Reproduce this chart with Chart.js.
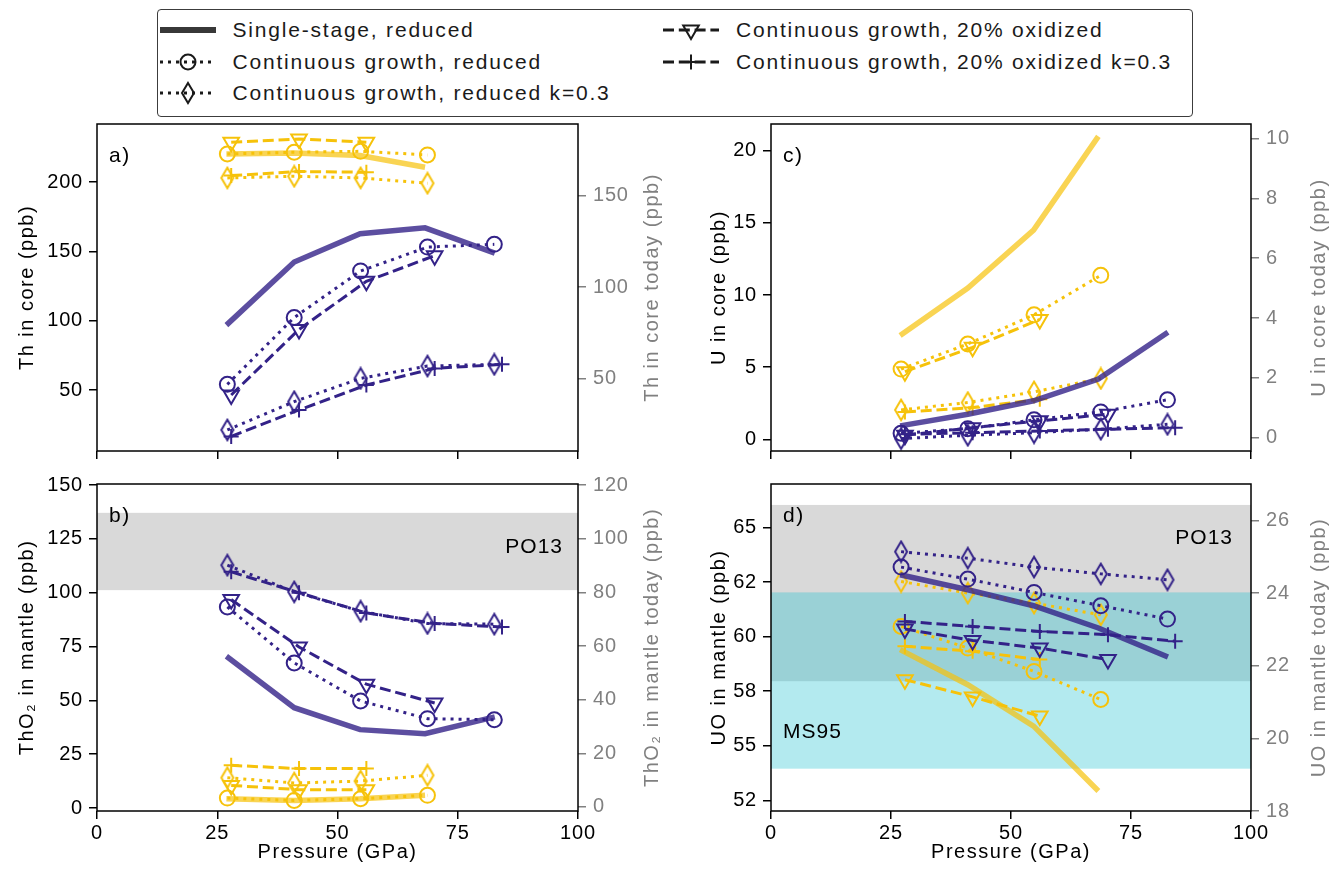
<!DOCTYPE html>
<html lang="en">
<head>
<meta charset="utf-8">
<title>Th and U in core and mantle</title>
<script src="https://cdn.jsdelivr.net/npm/chart.js@4.4.1/dist/chart.umd.min.js"></script>
<style>
  html, body { margin: 0; padding: 0; background: #fff; }
  body { width: 1339px; height: 876px; position: relative; overflow: hidden;
         font-family: "Liberation Sans", Arial, Helvetica, sans-serif; }
  canvas { position: absolute; }
  #legend { position: absolute; left: 157px; top: 9px; width: 1036px; height: 108px;
            border: 1.5px solid #3c3c3c; border-radius: 4px; box-sizing: border-box; background: #fff; }
  .entry { position: absolute; height: 24px; display: flex; align-items: center;
           font-size: 21px; letter-spacing: 1.8px; color: #1a1a1a; white-space: nowrap; }
  .entry svg { margin-right: 17px; flex: none; }
</style>
</head>
<body>
<div id="legend"></div>
<canvas id="panelA"></canvas>
<canvas id="panelB"></canvas>
<canvas id="panelC"></canvas>
<canvas id="panelD"></canvas>
<script>
// pressures of the model runs (GPa)
const pRed = [27.1, 41.0, 54.8, 68.7, 82.6];   // continuous growth, reduced
const pOx  = [27.9, 42.0, 56.0, 70.2, 84.2];   // continuous growth, 20% oxidized
const pSS  = [26.9, 41.0, 54.7, 68.2, 82.7];   // single-stage
const xTicks = [0, 25, 50, 75, 100];

// a) Th in core (ppb)
const thCoreBlueSS   = [96.9, 142.4, 162.8, 167.1, 148.9];
const thCoreBlueRed  = [54.2, 102.4, 136.0, 153.2, 155.2];
const thCoreBlueRedK = [21.3, 41.7, 58.5, 67.4, 68.6];
const thCoreBlueOx   = [46.5, 93.8, 128.5, 147.0];
const thCoreBlueOxK  = [16.6, 35.7, 53.7, 65.7, 68.6];
const thCoreGoldSS   = [220.4, 221.1, 219.2, 210.8];
const thCoreGoldRed  = [220.4, 221.6, 222.3, 219.7];
const thCoreGoldRedK = [203.1, 204.3, 203.1, 199.3];
const thCoreGoldOx   = [228.8, 231.2, 228.8];
const thCoreGoldOxK  = [204.8, 207.7, 207.2];
const thCoreTicks = [50, 100, 150, 200];
const thCoreTodayTicks = [50, 100, 150];

// b) ThO2 in mantle (ppb)
const thMantleBlueSS   = [70.5, 46.6, 36.4, 34.5, 42.3];
const thMantleBlueRed  = [93.4, 67.4, 49.7, 41.5, 41.0];
const thMantleBlueRedK = [112.8, 100.4, 91.4, 85.7, 85.4];
const thMantleBlueOx   = [96.8, 74.8, 57.5, 48.8];
const thMantleBlueOxK  = [109.7, 100.0, 90.6, 85.7, 84.1];
const thMantleGoldSS   = [4.3, 3.5, 4.3, 5.9];
const thMantleGoldRed  = [4.6, 3.5, 4.3, 5.9];
const thMantleGoldRedK = [14.1, 11.6, 12.5, 15.2];
const thMantleGoldOx   = [10.5, 8.5, 8.5];
const thMantleGoldOxK  = [19.8, 18.3, 18.3];
const thMantleTicks = [0, 25, 50, 75, 100, 125, 150];
const thMantleTodayTicks = [0, 20, 40, 60, 80, 100, 120];
const thMantlePO13 = [101.2, 137.1];

// c) U in core (ppb)
const uCoreBlueSS   = [0.93, 1.74, 2.67, 4.18, 7.42];
const uCoreBlueRed  = [0.42, 0.74, 1.35, 1.90, 2.74];
const uCoreBlueRedK = [0.05, 0.28, 0.46, 0.70, 1.04];
const uCoreBlueOx   = [0.28, 0.81, 1.28, 1.74];
const uCoreBlueOxK  = [0.35, 0.46, 0.58, 0.70, 0.81];
const uCoreGoldSS   = [7.19, 10.49, 14.5, 21.0];
const uCoreGoldRed  = [4.87, 6.61, 8.63, 11.37];
const uCoreGoldRedK = [2.04, 2.55, 3.29, 4.22];
const uCoreGoldOx   = [4.69, 6.38, 8.31];
const uCoreGoldOxK  = [1.9, 2.2, 2.78];
const uCoreTicks = [0, 5, 10, 15, 20];
const uCoreTodayTicks = [0, 2, 4, 6, 8, 10];

// d) UO in mantle (ppb)
const uMantleBlueSS   = [62.84, 62.15, 61.42, 60.40, 59.07];
const uMantleBlueRed  = [63.19, 62.64, 62.03, 61.42, 60.81];
const uMantleBlueRedK = [63.90, 63.60, 63.19, 62.88, 62.61];
const uMantleBlueOx   = [60.35, 59.83, 59.48, 58.95];
const uMantleBlueOxK  = [60.70, 60.47, 60.24, 60.09, 59.79];
const uMantleGoldSS   = [59.41, 57.80, 55.90, 52.93];
const uMantleGoldRed  = [60.47, 59.48, 58.41, 57.12];
const uMantleGoldRedK = [62.53, 62.00, 61.54, 61.00];
const uMantleGoldOx   = [58.03, 57.24, 56.36];
const uMantleGoldOxK  = [59.56, 59.33, 58.95];
const uMantleTicks = [52.5, 55, 57.5, 60, 62.5, 65];
const uMantleTickLabels = ['52', '55', '58', '60', '62', '65'];
const uMantleTodayTicks = [18, 20, 22, 24, 26];
const uMantlePO13 = [57.96, 66.04];
const uMantleMS95 = [53.95, 62.03];

const legendLabels = ['Single-stage, reduced', 'Continuous growth, reduced',
  'Continuous growth, reduced k=0.3', 'Continuous growth, 20% oxidized',
  'Continuous growth, 20% oxidized k=0.3'];
const legendKinds = ['ss', 'red', 'redK', 'ox', 'oxK'];

const FONT = '"Liberation Sans", Arial, Helvetica, sans-serif';
const COL = { blue: '#332288', gold: '#F6C20A' };
const COL_SS = { blue: 'rgba(51,34,136,0.8)', gold: 'rgba(246,194,10,0.7)' };
const GREY_AX = '#808080';

function diamondMarker(color) {
  const c = document.createElement('canvas');
  c.width = 16; c.height = 24;
  const g = c.getContext('2d');
  g.strokeStyle = color;
  g.lineWidth = 2;
  g.beginPath();
  g.moveTo(8, 1.8); g.lineTo(14, 12); g.lineTo(8, 22.2); g.lineTo(2, 12);
  g.closePath();
  g.stroke();
  return c;
}
const DIAMOND = { blue: diamondMarker(COL.blue), gold: diamondMarker(COL.gold) };

function pts(xs, ys) { return ys.map((y, i) => ({ x: xs[i], y: y })); }

function series(kind, c, data) {
  const d = {
    data: data, borderColor: COL[c], borderWidth: 3, borderCapStyle: 'butt', tension: 0, fill: false,
    pointBorderColor: COL[c], pointBackgroundColor: 'rgba(0,0,0,0)', pointBorderWidth: 2,
    pointRadius: 7.5, pointHoverRadius: 7.5
  };
  if (kind === 'ss') {
    d.borderColor = COL_SS[c]; d.borderWidth = 5.5; d.pointRadius = 0; d.pointHoverRadius = 0;
  } else if (kind === 'red') {
    d.borderDash = [3, 5]; d.pointStyle = 'circle';
  } else if (kind === 'redK') {
    d.borderDash = [3, 5]; d.pointStyle = DIAMOND[c];
  } else if (kind === 'ox') {
    d.borderDash = [11, 4.8]; d.pointStyle = 'triangle'; d.pointRotation = 180; d.pointRadius = 9;
  } else {
    d.borderDash = [11, 4.8]; d.pointStyle = 'cross'; d.pointRadius = 7.5;
  }
  return d;
}

// blue drawn on top of gold; within a colour the solid line sits lowest
function datasets(s) {
  const out = [];
  ['blue', 'gold'].forEach(c => {
    out.push(series('oxK', c, pts(pOx, s[c].oxK)));
    out.push(series('ox', c, pts(pOx, s[c].ox)));
    out.push(series('redK', c, pts(pRed, s[c].redK)));
    out.push(series('red', c, pts(pRed, s[c].red)));
    out.push(series('ss', c, pts(pSS, s[c].ss)));
  });
  return out;
}

function vText(ctx, text, x, y) {
  ctx.save();
  ctx.translate(x, y);
  ctx.rotate(-Math.PI / 2);
  ctx.fillText(text, 0, 0);
  ctx.restore();
}

const decor = {
  id: 'decor',
  beforeDraw(chart) { chart.ctx.letterSpacing = '0.8px'; },
  beforeDatasetsDraw(chart, args, o) {
    const { ctx, chartArea: a, scales: { y } } = chart;
    ctx.save();
    (o.bands || []).forEach(b => {
      const y1 = y.getPixelForValue(b.to), y2 = y.getPixelForValue(b.from);
      ctx.fillStyle = b.color;
      ctx.fillRect(a.left, y1, a.right - a.left, y2 - y1);
    });
    ctx.fillStyle = '#000';
    ctx.font = '21px ' + FONT;
    ctx.letterSpacing = '1px';
    ctx.textBaseline = 'middle';
    (o.notes || []).forEach(n => {
      ctx.textAlign = n.align;
      ctx.fillText(n.text, n.align === 'right' ? a.right - n.dx : a.left + n.dx, a.top + n.dy);
    });
    ctx.restore();
  },
  afterDraw(chart, args, o) {
    const { ctx, chartArea: a } = chart;
    ctx.save();
    ctx.strokeStyle = '#000';
    ctx.lineWidth = 1.5;
    ctx.strokeRect(a.left, a.top, a.right - a.left, a.bottom - a.top);
    ctx.letterSpacing = '1.5px';
    ctx.font = '20px ' + FONT;
    ctx.textAlign = 'center';
    ctx.textBaseline = 'middle';
    const cy = (a.top + a.bottom) / 2;
    ctx.fillStyle = '#000';
    vText(ctx, o.leftTitle, o.leftTitleX, cy);
    if (o.xTitle) ctx.fillText(o.xTitle, (a.left + a.right) / 2, o.xTitleY);
    ctx.fillStyle = GREY_AX;
    vText(ctx, o.rightTitle, o.rightTitleX, cy);
    ctx.fillStyle = '#000';
    ctx.font = '21px ' + FONT;
    ctx.textAlign = 'left';
    ctx.fillText(o.letter, a.left + 12, a.top + 32);
    ctx.restore();
  }
};

function makeChart(id, p) {
  const el = document.getElementById(id);
  el.width = p.w; el.height = p.h;
  el.style.left = p.left + 'px'; el.style.top = p.top + 'px';
  const tickFont = { family: FONT, size: 20 };
  const fixTicks = arr => s => { s.ticks = arr.map(v => ({ value: v })); };
  return new Chart(el, {
    type: 'line',
    data: { datasets: datasets(p.series) },
    plugins: [decor],
    options: {
      responsive: false, animation: false, devicePixelRatio: 1, events: [],
      layout: { padding: { top: p.padTop, left: 0, right: 0, bottom: 0 } },
      plugins: {
        legend: { display: false }, tooltip: { enabled: false },
        decor: p.decor
      },
      scales: {
        x: {
          type: 'linear', min: 0, max: 100,
          afterBuildTicks: fixTicks(xTicks),
          ticks: { display: p.xLabels, color: '#000', font: tickFont, padding: 2, maxRotation: 0, autoSkip: false,
                   callback: v => String(v) },
          grid: { display: true, drawOnChartArea: false, tickLength: 8, color: '#000', lineWidth: 1.5 },
          border: { display: false },
          afterFit: s => { s.height = p.xH; s.paddingLeft = 0; s.paddingRight = 0; }
        },
        y: {
          type: 'linear', position: 'left', min: p.yMin, max: p.yMax,
          afterBuildTicks: fixTicks(p.yTicks),
          ticks: { color: '#000', font: tickFont, padding: 6, autoSkip: false,
                   callback: v => p.yLabels ? p.yLabels[p.yTicks.indexOf(v)] : String(v) },
          grid: { display: true, drawOnChartArea: false, tickLength: 8, color: '#000', lineWidth: 1.5 },
          border: { display: false },
          afterFit: s => { s.width = p.leftW; s.paddingTop = 0; s.paddingBottom = 0; }
        },
        y2: {
          type: 'linear', position: 'right', min: p.y2Min, max: p.y2Max,
          afterBuildTicks: fixTicks(p.y2Ticks),
          ticks: { color: GREY_AX, font: tickFont, padding: 7, autoSkip: false, callback: v => String(v) },
          grid: { display: true, drawOnChartArea: false, tickLength: 8, color: GREY_AX, lineWidth: 1.5 },
          border: { display: false },
          afterFit: s => { s.width = p.rightW; s.paddingTop = 0; s.paddingBottom = 0; }
        }
      }
    }
  });
}

const GREY_BAND = 'rgba(128,128,128,0.3)';
const CYAN_BAND = 'rgba(23,190,207,0.33)';

makeChart('panelA', {
  left: 0, top: 104, w: 669, h: 370, padTop: 20, leftW: 97, rightW: 91, xH: 23, xLabels: false,
  yMin: 6.1, yMax: 242, yTicks: thCoreTicks, y2Min: 10.4, y2Max: 189.1, y2Ticks: thCoreTodayTicks,
  series: {
    blue: { ss: thCoreBlueSS, red: thCoreBlueRed, redK: thCoreBlueRedK, ox: thCoreBlueOx, oxK: thCoreBlueOxK },
    gold: { ss: thCoreGoldSS, red: thCoreGoldRed, redK: thCoreGoldRedK, ox: thCoreGoldOx, oxK: thCoreGoldOxK }
  },
  decor: { letter: 'a)', leftTitle: 'Th in core (ppb)', rightTitle: 'Th in core today (ppb)',
           leftTitleX: 27, rightTitleX: 652 }
});

makeChart('panelB', {
  left: 0, top: 470, w: 669, h: 406, padTop: 14, leftW: 97, rightW: 91, xH: 65, xLabels: true,
  yMin: -1.4, yMax: 150.5, yTicks: thMantleTicks, y2Min: -1.5, y2Max: 120.4, y2Ticks: thMantleTodayTicks,
  series: {
    blue: { ss: thMantleBlueSS, red: thMantleBlueRed, redK: thMantleBlueRedK, ox: thMantleBlueOx, oxK: thMantleBlueOxK },
    gold: { ss: thMantleGoldSS, red: thMantleGoldRed, redK: thMantleGoldRedK, ox: thMantleGoldOx, oxK: thMantleGoldOxK }
  },
  decor: { letter: 'b)', leftTitle: 'ThO\u2082 in mantle (ppb)', rightTitle: 'ThO\u2082 in mantle today (ppb)',
           leftTitleX: 27, rightTitleX: 652, xTitle: 'Pressure (GPa)', xTitleY: 382,
           bands: [{ from: thMantlePO13[0], to: thMantlePO13[1], color: GREY_BAND }],
           notes: [{ text: 'PO13', align: 'right', dx: 15, dy: 63 }] }
});

makeChart('panelC', {
  left: 669, top: 104, w: 670, h: 370, padTop: 20, leftW: 102, rightW: 88, xH: 23, xLabels: false,
  yMin: -0.81, yMax: 21.86, yTicks: uCoreTicks, y2Min: -0.45, y2Max: 10.49, y2Ticks: uCoreTodayTicks,
  series: {
    blue: { ss: uCoreBlueSS, red: uCoreBlueRed, redK: uCoreBlueRedK, ox: uCoreBlueOx, oxK: uCoreBlueOxK },
    gold: { ss: uCoreGoldSS, red: uCoreGoldRed, redK: uCoreGoldRedK, ox: uCoreGoldOx, oxK: uCoreGoldOxK }
  },
  decor: { letter: 'c)', leftTitle: 'U in core (ppb)', rightTitle: 'U in core today (ppb)',
           leftTitleX: 50, rightTitleX: 650 }
});

makeChart('panelD', {
  left: 669, top: 470, w: 670, h: 406, padTop: 14, leftW: 102, rightW: 88, xH: 65, xLabels: true,
  yMin: 52.01, yMax: 67.0, yTicks: uMantleTicks, yLabels: uMantleTickLabels,
  y2Min: 18.0, y2Max: 27.01, y2Ticks: uMantleTodayTicks,
  series: {
    blue: { ss: uMantleBlueSS, red: uMantleBlueRed, redK: uMantleBlueRedK, ox: uMantleBlueOx, oxK: uMantleBlueOxK },
    gold: { ss: uMantleGoldSS, red: uMantleGoldRed, redK: uMantleGoldRedK, ox: uMantleGoldOx, oxK: uMantleGoldOxK }
  },
  decor: { letter: 'd)', leftTitle: 'UO in mantle (ppb)', rightTitle: 'UO in mantle today (ppb)',
           leftTitleX: 50, rightTitleX: 650, xTitle: 'Pressure (GPa)', xTitleY: 382,
           bands: [{ from: uMantlePO13[0], to: uMantlePO13[1], color: GREY_BAND },
                   { from: uMantleMS95[0], to: uMantleMS95[1], color: CYAN_BAND }],
           notes: [{ text: 'PO13', align: 'right', dx: 18, dy: 54 },
                   { text: 'MS95', align: 'left', dx: 12, dy: 248 }] }
});

// legend (two columns, black handles)
function legendHandle(kind) {
  const c = '#1a1a1a', W = 56, cy = 12, cx = 28;
  let line, mark = '';
  if (kind === 'ss') {
    line = `<line x1="0" y1="${cy}" x2="${W}" y2="${cy}" stroke="rgba(0,0,0,0.78)" stroke-width="6"/>`;
  } else {
    const dash = (kind === 'red' || kind === 'redK') ? '3 5' : '11 4.8';
    line = `<line x1="0" y1="${cy}" x2="${W}" y2="${cy}" stroke="${c}" stroke-width="3" stroke-dasharray="${dash}"/>`;
  }
  if (kind === 'red') mark = `<circle cx="${cx}" cy="${cy}" r="7.5" fill="none" stroke="${c}" stroke-width="2"/>`;
  if (kind === 'redK') mark = `<polygon points="${cx},${cy - 10} ${cx + 6},${cy} ${cx},${cy + 10} ${cx - 6},${cy}" fill="none" stroke="${c}" stroke-width="2"/>`;
  if (kind === 'ox') mark = `<polygon points="${cx - 7.8},${cy - 4.5} ${cx + 7.8},${cy - 4.5} ${cx},${cy + 9}" fill="none" stroke="${c}" stroke-width="2"/>`;
  if (kind === 'oxK') mark = `<path d="M${cx - 7.5},${cy}H${cx + 7.5}M${cx},${cy - 7.5}V${cy + 7.5}" stroke="${c}" stroke-width="2"/>`;
  return `<svg width="${W}" height="24" viewBox="0 0 ${W} 24">${line}${mark}</svg>`;
}
const legendSlots = [[1.5, 20], [1.5, 51.5], [1.5, 83], [505, 20], [505, 51.5]];
const legendEl = document.getElementById('legend');
legendKinds.forEach((k, i) => {
  const e = document.createElement('div');
  e.className = 'entry';
  e.style.left = legendSlots[i][0] + 'px';
  e.style.top = (legendSlots[i][1] - 12) + 'px';
  e.innerHTML = legendHandle(k) + '<span>' + legendLabels[i] + '</span>';
  legendEl.appendChild(e);
});
</script>
</body>
</html>
